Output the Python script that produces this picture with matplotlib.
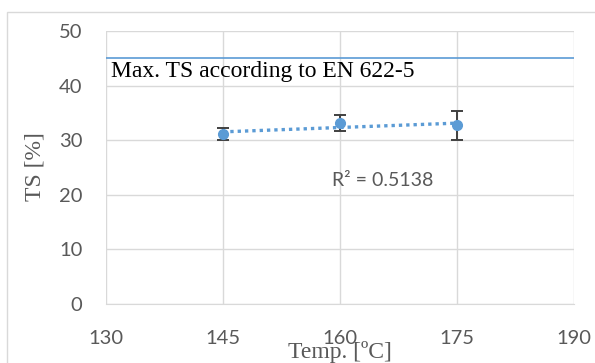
import numpy as np
import matplotlib
matplotlib.use("Agg")
import matplotlib.pyplot as plt
from matplotlib.patches import Rectangle

# data
temps = [145, 160, 175]
ts_mean = [31.1, 33.2, 32.7]
ts_err = [1.1, 1.5, 2.7]
max_ts = 45
x_ticks = [130, 145, 160, 175, 190]
y_ticks = [0, 10, 20, 30, 40, 50]

blue = "#5b9bd5"
grid_col = "#d9d9d9"
tick_col = "#595959"

fig = plt.figure(figsize=(5.95, 3.63), dpi=100)
ax = fig.add_axes([0.178, 0.1625, 0.787, 0.752])

# outer chart frame
fig.patches.append(Rectangle((7 / 595, -0.1), 1.2, 1 - 12 / 363 + 0.1,
                             transform=fig.transFigure, fill=False,
                             edgecolor=grid_col, linewidth=1))

ax.set_xlim(130, 190)
ax.set_ylim(0, 50)
ax.set_xticks(x_ticks)
ax.set_yticks(y_ticks)
ax.grid(True, color=grid_col, linewidth=1)
ax.set_axisbelow(True)
for side in ["top", "right", "left"]:
    ax.spines[side].set_visible(False)
ax.spines["bottom"].set_color(grid_col)
ax.tick_params(length=0, labelsize=14.5, labelcolor=tick_col,
               labelfontfamily="Lato")
ax.tick_params(axis="y", pad=17)
ax.tick_params(axis="x", pad=19)

# limit line
ax.axhline(max_ts, color=blue, linewidth=1.2)
ax.text(130.6, 41.5, "Max. TS according to EN 622-5", family="Liberation Serif",
        fontsize=17, va="baseline", ha="left", color="black")

# linear trendline
coef = np.polyfit(temps, ts_mean, 1)
xs = np.array([temps[0], temps[-1]])
ax.plot(xs, np.polyval(coef, xs), linestyle=(0, (1, 1.2)), color=blue, linewidth=2.4)

ax.errorbar(temps, ts_mean, yerr=ts_err, fmt="o", color=blue, markersize=7,
            ecolor="#404040", elinewidth=1.4, capsize=4, capthick=1.4)

ax.text(159.0, 22.7, "R\u00b2 = 0.5138", family="Lato", fontsize=14,
        color=tick_col, ha="left", va="center")

fig.text(340 / 595, 1 - 352 / 363, "Temp. [\u00baC]", family="Liberation Serif",
         fontsize=17, ha="center", va="center", color=tick_col)
fig.text(35 / 595, 1 - 167 / 363, "TS [%]", family="Liberation Serif",
         fontsize=17, ha="center", va="center", rotation=90, color=tick_col)

fig.savefig("out.png", dpi=100)
